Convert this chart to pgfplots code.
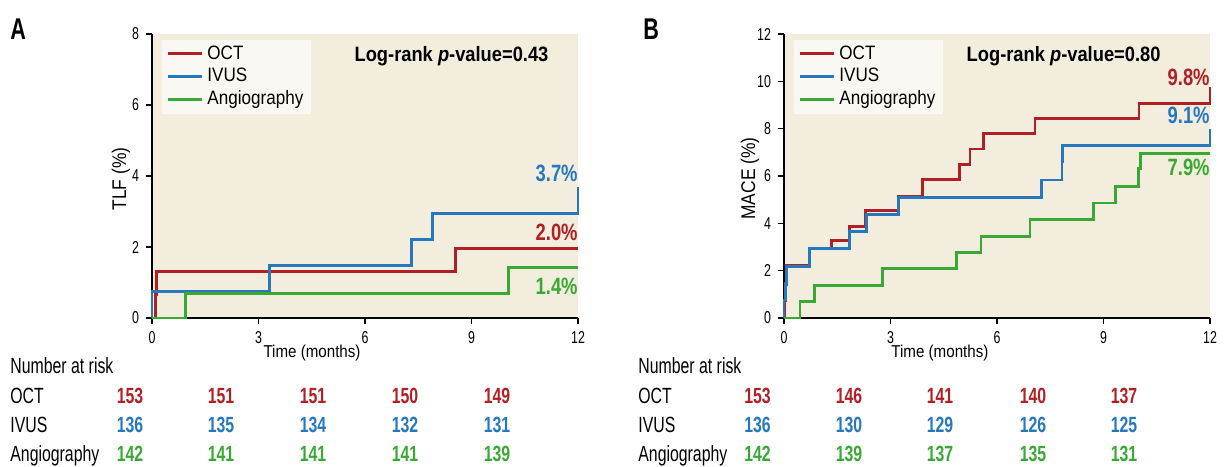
\documentclass[border=0pt]{standalone}
\usepackage{fontspec}
\setmainfont{Liberation Sans}[FakeStretch=0.72]
\newfontfamily\semi{Liberation Sans}[FakeStretch=0.88]
\newfontfamily\endfont{Liberation Sans}[FakeStretch=0.78]
\usepackage{pgfplots}
\pgfplotsset{compat=1.18}

\definecolor{kmred}{RGB}{178,32,38}
\definecolor{kmblue}{RGB}{38,120,190}
\definecolor{kmgreen}{RGB}{58,168,52}
\definecolor{bgbeige}{RGB}{242,237,220}
\definecolor{legfill}{RGB}{250,248,242}

\pgfplotsset{
 kmaxis/.style={
  scale only axis, width=213pt, height=142pt,
  anchor=south west,
  xmin=0, xmax=12, ymin=0,
  xtick={0,3,6,9,12},
  axis lines=left,
  axis line style={-, line width=0.9pt, black},
  axis background/.style={fill=bgbeige},
  tick align=outside, major tick length=3pt,
  tick style={black, line width=0.6pt},
  tick label style={font=\fontsize{8.6}{10}\selectfont},
  /pgf/number format/assume math mode=true,
  xlabel={Time (months)},
  xlabel style={font=\semi\fontsize{8.6}{10}\selectfont, anchor=base, inner sep=0pt, yshift=-19.5pt},
  ylabel style={font=\semi\fontsize{9.9}{11}\selectfont, anchor=center, inner sep=0pt},
  legend style={draw=none, fill=legfill, anchor=north west, at={(0.0235,0.982)},
    font=\semi\fontsize{9.7}{11}\selectfont, inner xsep=2pt, inner ysep=1pt, row sep=-1pt},
  legend cell align=left,
  every axis plot/.append style={line width=1.45pt, const plot, no marks},
  clip=false,
 }
}

\begin{document}
\begin{tikzpicture}
\path[use as bounding box] (0,0) rectangle (612pt,233pt);

% ---------- Panel A ----------
\begin{axis}[kmaxis, at={(76pt,74pt)}, ymax=8, ytick={0,2,4,6,8},
  ylabel={TLF (\%)},
  ylabel style={at={(axis description cs:-0.073,0.489)}},
  xlabel style={at={(axis description cs:0.3756,0)}}]
\addplot[kmred] coordinates {(0,0) (0.1,0.65) (0.12,1.31) (8.54,1.96) (12,1.96)};
\addplot[kmblue] coordinates {(0,0) (0,0.74) (3.3,1.47) (7.3,2.21) (7.89,2.94) (12,3.68)};
\addplot[kmgreen] coordinates {(0,0) (0.94,0.70) (10.05,1.41) (12,1.41)};
\legend{OCT, IVUS, Angiography}
\node[anchor=base east, inner sep=0pt, text=kmblue, font=\endfont\bfseries\fontsize{11.8}{13}\selectfont] at (axis cs:12,3.84) {3.7\%};
\node[anchor=base east, inner sep=0pt, text=kmred, font=\endfont\bfseries\fontsize{11.8}{13}\selectfont] at (axis cs:12,2.18) {2.0\%};
\node[anchor=base east, inner sep=0pt, text=kmgreen, font=\endfont\bfseries\fontsize{11.8}{13}\selectfont] at (axis cs:12,0.65) {1.4\%};
\end{axis}

% ---------- Panel B ----------
\begin{axis}[kmaxis, at={(392pt,74pt)}, ymax=12, ytick={0,2,4,6,8,10,12},
  ylabel={MACE (\%)},
  ylabel style={at={(axis description cs:-0.08,0.491)}},
  xlabel style={at={(axis description cs:0.366,0)}}]
\addplot[kmred] coordinates {(0,0) (0.02,0.74) (0.04,1.45) (0.08,2.2) (0.72,2.94) (1.34,3.27) (1.84,3.88) (2.29,4.53) (3.23,5.15) (3.89,5.85) (4.94,6.49) (5.24,7.14) (5.63,7.78) (7.07,8.43) (10.0,9.08) (12,9.75)};
\addplot[kmblue] coordinates {(0,0) (0,0.76) (0.04,1.42) (0.08,2.17) (0.72,2.94) (1.84,3.65) (2.33,4.38) (3.23,5.08) (7.26,5.83) (7.83,6.6) (7.85,7.28) (12,8.0)};
\addplot[kmgreen] coordinates {(0,0) (0.45,0.69) (0.87,1.39) (2.77,2.08) (4.86,2.77) (5.55,3.46) (6.93,4.16) (8.73,4.86) (9.34,5.56) (9.98,6.3) (10.04,6.95) (12,6.95)};
\legend{OCT, IVUS, Angiography}
\node[anchor=base east, inner sep=0pt, text=kmred, font=\endfont\bfseries\fontsize{11.8}{13}\selectfont] at (axis cs:12,9.84) {9.8\%};
\node[anchor=base east, inner sep=0pt, text=kmblue, font=\endfont\bfseries\fontsize{11.8}{13}\selectfont] at (axis cs:12,8.2) {9.1\%};
\node[anchor=base east, inner sep=0pt, text=kmgreen, font=\endfont\bfseries\fontsize{11.8}{13}\selectfont] at (axis cs:12,6.04) {7.9\%};
\end{axis}

% ---------- Annotations ----------
\node[anchor=base west, inner sep=0pt, font=\bfseries\fontsize{15}{17}\selectfont] at (5pt,213pt) {A};
\node[anchor=base west, inner sep=0pt, font=\bfseries\fontsize{15}{17}\selectfont] at (321.5pt,213pt) {B};
\node[anchor=base, inner sep=0pt, font=\semi\bfseries\fontsize{10.4}{12}\selectfont] at (225.75pt,202.2pt) {Log-rank \textit{p}-value=0.43};
\node[anchor=base, inner sep=0pt, font=\semi\bfseries\fontsize{10.4}{12}\selectfont] at (531.8pt,202.2pt) {Log-rank \textit{p}-value=0.80};

% ---------- Number at risk ----------
\foreach \xo in {5pt,319pt}{
  \node[anchor=base west, inner sep=0pt, font=\fontsize{11}{13}\selectfont] at (\xo,46.5pt) {Number at risk};
  \node[anchor=base west, inner sep=0pt, font=\fontsize{11}{13}\selectfont] at (\xo,31.3pt) {OCT};
  \node[anchor=base west, inner sep=0pt, font=\fontsize{11}{13}\selectfont] at (\xo,16.6pt) {IVUS};
  \node[anchor=base west, inner sep=0pt, font=\fontsize{11}{13}\selectfont] at (\xo,2.1pt) {Angiography};
}
\foreach \x/\n in {65/153,110.5/151,156.5/151,202.5/150,248.5/149}
  \node[anchor=base, inner sep=0pt, text=kmred, font=\bfseries\fontsize{11}{13}\selectfont] at (\x pt,31.3pt) {\n};
\foreach \x/\n in {65/136,110.5/135,156.5/134,202.5/132,248.5/131}
  \node[anchor=base, inner sep=0pt, text=kmblue, font=\bfseries\fontsize{11}{13}\selectfont] at (\x pt,16.6pt) {\n};
\foreach \x/\n in {65/142,110.5/141,156.5/141,202.5/141,248.5/139}
  \node[anchor=base, inner sep=0pt, text=kmgreen, font=\bfseries\fontsize{11}{13}\selectfont] at (\x pt,2.1pt) {\n};
\foreach \x/\n in {378.75/153,424.5/146,470/141,516.5/140,562/137}
  \node[anchor=base, inner sep=0pt, text=kmred, font=\bfseries\fontsize{11}{13}\selectfont] at (\x pt,31.3pt) {\n};
\foreach \x/\n in {378.75/136,424.5/130,470/129,516.5/126,562/125}
  \node[anchor=base, inner sep=0pt, text=kmblue, font=\bfseries\fontsize{11}{13}\selectfont] at (\x pt,16.6pt) {\n};
\foreach \x/\n in {378.75/142,424.5/139,470/137,516.5/135,562/131}
  \node[anchor=base, inner sep=0pt, text=kmgreen, font=\bfseries\fontsize{11}{13}\selectfont] at (\x pt,2.1pt) {\n};
\end{tikzpicture}
\end{document}
